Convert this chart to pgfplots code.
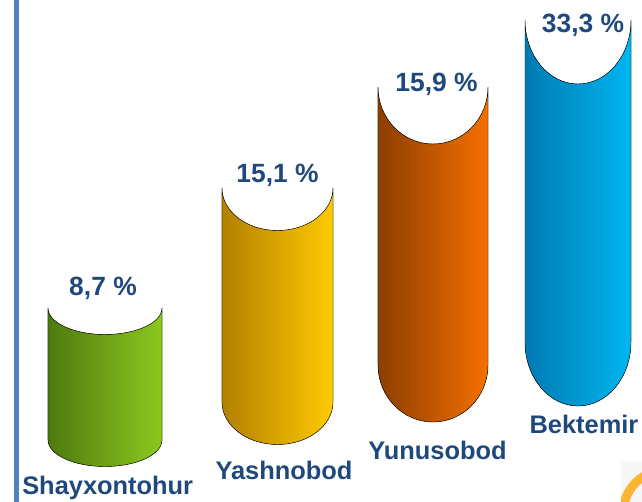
\documentclass[border=0pt]{standalone}
\usepackage{pgfplots}
\pgfplotsset{compat=1.18}
\usepackage{fontspec}
\setmainfont{Liberation Sans}
\definecolor{txt}{HTML}{1F497D}
\definecolor{lineblue}{RGB}{80,130,195}
\definecolor{gL}{RGB}{78,122,14}
\definecolor{gR}{RGB}{140,200,30}
\definecolor{yL}{RGB}{178,128,0}
\definecolor{yR}{RGB}{255,202,0}
\definecolor{oL}{RGB}{140,62,0}
\definecolor{oR}{RGB}{245,112,0}
\definecolor{bL}{RGB}{0,122,178}
\definecolor{bR}{RGB}{0,182,240}
\definecolor{ring}{RGB}{253,180,52}
\pgfdeclareplotmark{blank}{}
\begin{document}
\begin{tikzpicture}
\useasboundingbox (0,0) rectangle (642bp,502bp);
\begin{axis}[at={(0,0)}, anchor=origin, x=1bp, y=1bp, scale only axis,
  xmin=0, xmax=642, ymin=0, ymax=502, hide axis, clip=false,
  cyl/.style 2 args={only marks, scatter, mark=blank,
    visualization depends on={value \thisrow{hw} \as \hw},
    visualization depends on={value \thisrow{h} \as \hh},
    visualization depends on={value \thisrow{ry} \as \ry},
    scatter/@pre marker code/.code={%
      \fill[left color=#1, right color=#2] (-\hw bp,0) -- (-\hw bp,-\hh bp)
        arc[start angle=180, end angle=360, x radius=\hw bp, y radius=\ry bp]
        -- (\hw bp,0)
        arc[start angle=360, end angle=180, x radius=\hw bp, y radius=\ry bp]
        -- cycle;
    },
    scatter/@post marker code/.code={}},
  lbl/.style={draw=none, mark=none, nodes near coords, point meta=explicit symbolic,
    nodes near coords align=center,
    every node near coord/.append style={anchor=base, inner sep=0pt, text=txt,
      font=\fontsize{#1}{#1}\selectfont\bfseries}},
]
\addplot[lineblue, line width=5bp] coordinates {(16.5,0) (16.5,502)};
\addplot[cyl={gL}{gR}] table {
x y hw h ry
105 194 57 132 26.5
};
\addplot[cyl={yL}{yR}] table {
x y hw h ry
277.5 314 55.5 214 42.5
};
\addplot[cyl={oL}{oR}] table {
x y hw h ry
433 415 55 278 57
};
\addplot[cyl={bL}{bR}] table {
x y hw h ry
578 482 53 322 64
};
\addplot[lbl=26.5] coordinates {(103,207) [{8,7 \%}] (277.5,320) [{15,1 \%}] (436.5,410) [{15,9 \%}] (583,469) [{33,3 \%}]};
\addplot[lbl=25.5] coordinates {(107.7,8) [Shayxontohur] (284,23) [Yashnobod] (437.5,43) [Yunusobod] (584,69) [Bektemir]};
\end{axis}
\fill[gray!6] (621bp,0) rectangle (642bp,41bp);
\begin{scope}
\clip (621bp,0) rectangle (642bp,41bp);
\draw[ring, line width=9bp] (665bp,-10bp) circle (41.5bp);
\end{scope}
\end{tikzpicture}
\end{document}
